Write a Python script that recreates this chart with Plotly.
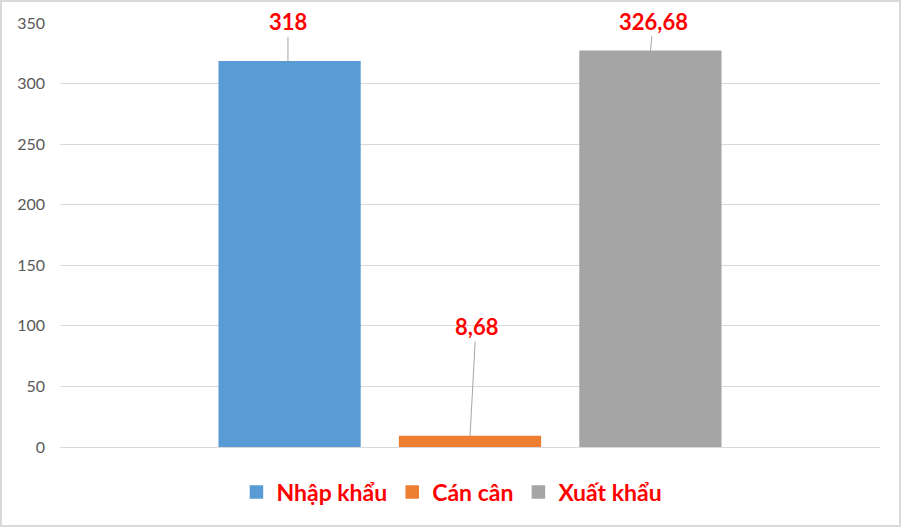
import plotly.graph_objects as go

series = ['Nhập khẩu', 'Cán cân', 'Xuất khẩu']
values = [318, 8.68, 326.68]
labels = ['318', '8,68', '326,68']
colors = ['#5B9BD5', '#ED7D31', '#A5A5A5']
y_ticks = [0, 50, 100, 150, 200, 250, 300, 350]

fig = go.Figure()
for name, val, col in zip(series, values, colors):
    fig.add_trace(go.Bar(
        x=[''],
        y=[val],
        name=name,
        marker=dict(color=col, line=dict(width=1.5, color=col)),
    ))

# data labels with leader lines: bar centres in paper units, pixel offsets
label_x = [0.278, 0.5, 0.72]
offsets = [(0, -40), (6, -110), (3, -30)]
for lx, lab, val, off in zip(label_x, labels, values, offsets):
    fig.add_annotation(
        x=lx, xref='paper', y=val, yref='y',
        text=lab,
        showarrow=True, arrowhead=0, arrowwidth=1, arrowcolor='#A6A6A6',
        ax=off[0], ay=off[1],
        font=dict(family='Lato', size=22, color='#FF0000', weight='bold'),
    )

fig.update_layout(
    width=902, height=527,
    barmode='group',
    bargap=0.34,
    bargroupgap=0.22,
    plot_bgcolor='white',
    paper_bgcolor='white',
    margin=dict(l=60, r=22, t=23, b=80),
    showlegend=True,
    legend=dict(
        orientation='h', x=0.478, xanchor='center', y=-0.106, yanchor='middle',
        font=dict(family='Lato', size=23, color='#FF0000', weight='bold'),
        traceorder='normal',
    ),
    font=dict(family='Lato'),
)
fig.update_xaxes(
    type='category', range=[-0.5, 0.5], showticklabels=False,
    showgrid=False, zeroline=False, showline=False,
)
fig.update_yaxes(
    range=[0, 350], tickvals=y_ticks,
    tickfont=dict(family='Lato', size=16, color='#595959'),
    showgrid=True, gridcolor='#D9D9D9', gridwidth=1,
    zeroline=True, zerolinecolor='#D9D9D9', zerolinewidth=1,
    ticks='', ticklabelstandoff=14,
)
# outer chart border
fig.add_shape(type='rect', xref='paper', yref='paper',
              x0=-59 / 820, x1=1 + 20 / 820, y0=-79 / 424, y1=1 + 22 / 424,
              line=dict(color='#D9D9D9', width=2))

fig.write_html('out.html', config={'displayModeBar': False},
               post_script="document.body.style.margin='0';")
